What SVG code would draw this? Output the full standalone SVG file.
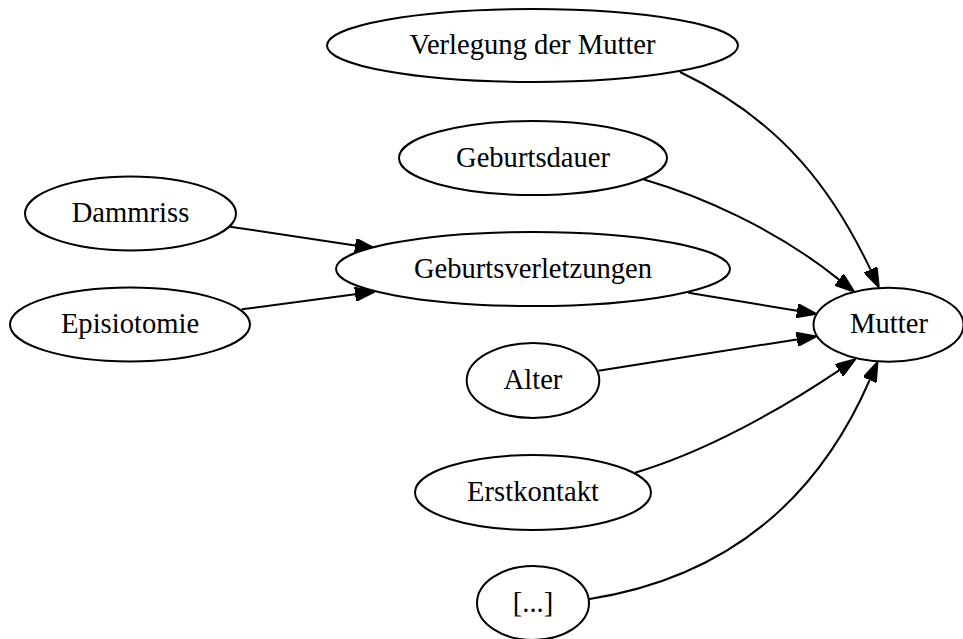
<svg xmlns="http://www.w3.org/2000/svg" width="963" height="639" viewBox="0 0 963 639">
<style>
.node ellipse{fill:#fff;stroke:#000;stroke-width:2}
.node text{font-family:"Liberation Serif","Times New Roman",serif;font-size:28.6px;text-anchor:middle;fill:#000}
.edge{fill:none;stroke:#000;stroke-width:2;marker-end:url(#ah)}
</style>
<defs>
<marker id="ah" viewBox="0 0 20 14" refX="0" refY="7" markerWidth="20" markerHeight="14" markerUnits="userSpaceOnUse" orient="auto">
<path d="M0,0 L20,7 L0,14 z" fill="#000" stroke="#000" stroke-width="1.5"/>
</marker>
</defs>
<rect width="963" height="639" fill="#fff"/>
<g id="edges">
<path class="edge" d="M230,226.7 L355.2,245.4"/>
<path class="edge" d="M241.7,309.3 L355.2,294.3"/>
<path class="edge" d="M688.3,292.7 L797,310.7"/>
<path class="edge" d="M598.5,370.7 L796.9,339.4"/>
<path class="edge" d="M643.3,179.3 C700,196 775,228 839,279.6"/>
<path class="edge" d="M680,72 C785,122 835,195 870.5,269.6"/>
<path class="edge" d="M635,472.7 C705,452 780,410 839,370.3"/>
<path class="edge" d="M588.3,599.3 C680,585 800,540 869.7,380"/>
</g>
<g id="verlegung" class="node"><ellipse cx="532.5" cy="45.5" rx="205.5" ry="36.5"/><text x="532.5" y="54">Verlegung der Mutter</text></g>
<g id="geburtsdauer" class="node"><ellipse cx="533" cy="158" rx="134" ry="37"/><text x="533" y="166.5">Geburtsdauer</text></g>
<g id="dammriss" class="node"><ellipse cx="130.5" cy="213.5" rx="105.5" ry="37"/><text x="130.5" y="222">Dammriss</text></g>
<g id="geburtsverletzungen" class="node"><ellipse cx="533" cy="269" rx="197" ry="37"/><text x="533" y="277.5">Geburtsverletzungen</text></g>
<g id="episiotomie" class="node"><ellipse cx="130" cy="324.5" rx="120" ry="37"/><text x="130" y="333">Episiotomie</text></g>
<g id="mutter" class="node"><ellipse cx="888.5" cy="324.8" rx="75" ry="37"/><text x="889" y="333.3">Mutter</text></g>
<g id="alter" class="node"><ellipse cx="533" cy="380.5" rx="66.3" ry="37.5"/><text x="533" y="389">Alter</text></g>
<g id="erstkontakt" class="node"><ellipse cx="533" cy="492.5" rx="118" ry="37.5"/><text x="533" y="501">Erstkontakt</text></g>
<g id="etc" class="node"><ellipse cx="533" cy="603" rx="56" ry="37"/><text x="533" y="611.5">[...]</text></g>
</svg>
